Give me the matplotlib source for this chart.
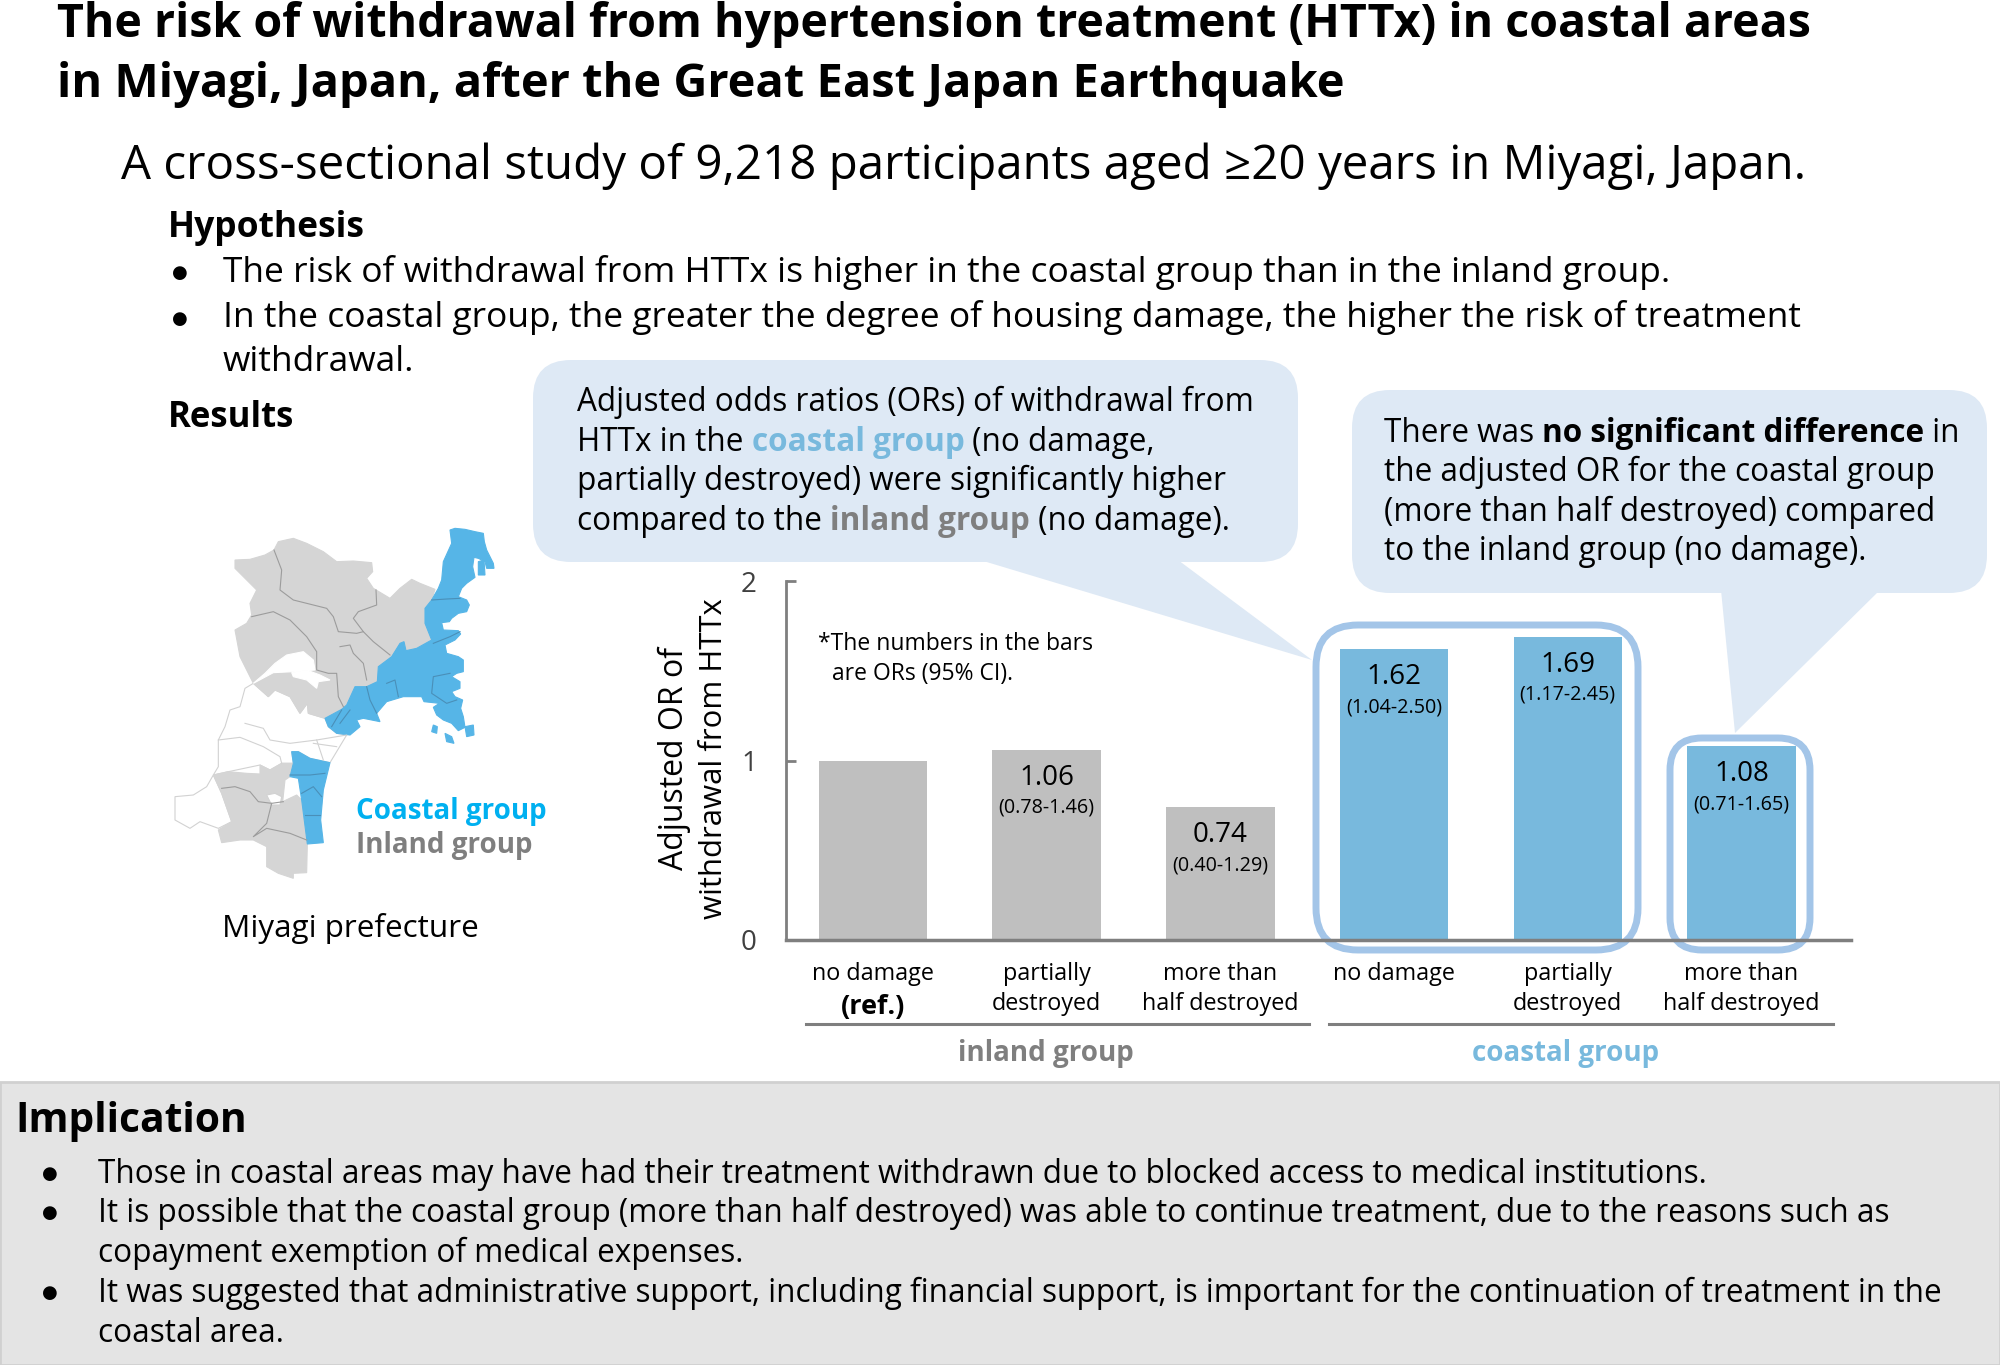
import numpy as np
import matplotlib
matplotlib.use('Agg')
import matplotlib.pyplot as plt
from matplotlib.patches import FancyBboxPatch, Polygon, Rectangle

# --- chart data ---
group_names = ['inland group', 'coastal group']
damage_labels = ['no damage', 'partially\ndestroyed', 'more than\nhalf destroyed',
                 'no damage', 'partially\ndestroyed', 'more than\nhalf destroyed']
odds_ratios = [1.00, 1.06, 0.74, 1.62, 1.69, 1.08]
or_labels = ['', '1.06', '0.74', '1.62', '1.69', '1.08']
ci_labels = ['', '(0.78-1.46)', '(0.40-1.29)', '(1.04-2.50)', '(1.17-2.45)', '(0.71-1.65)']
y_ticks = [0, 1, 2]

title_lines = ['The risk of withdrawal from hypertension treatment (HTTx) in coastal areas',
               'in Miyagi, Japan, after the Great East Japan Earthquake']
subtitle = 'A cross-sectional study of 9,218 participants aged ≥20 years in Miyagi, Japan.'
hypothesis = ['The risk of withdrawal from HTTx is higher in the coastal group than in the inland group.',
              'In the coastal group, the greater the degree of housing damage, the higher the risk of treatment',
              'withdrawal.']
implication = ['Those in coastal areas may have had their treatment withdrawn due to blocked access to medical institutions.',
               'It is possible that the coastal group (more than half destroyed) was able to continue treatment, due to the reasons such as',
               'copayment exemption of medical expenses.',
               'It was suggested that administrative support, including financial support, is important for the continuation of treatment in the',
               'coastal area.']

map_grey_north = [(255,180),(300,178),(345,165),(372,150),(385,125),(430,115),(470,130),(520,155),(560,185),(610,183),
                  (665,188),(668,215),(650,235),(670,265),(720,295),(750,265),(785,238),(810,250),(855,268),(845,300),
                  (825,325),(825,370),(845,420),(800,445),(768,452),(762,425),(750,430),(725,470),(685,500),(682,545),
                  (650,560),(615,560),(590,615),(575,628),(525,655),(475,640),(472,610),(450,640),(420,590),(375,570),
                  (355,590),(310,550),(285,500),(270,470),(255,390),(290,370),(305,345),(300,310),(320,270),(255,205)]
map_white_hole = [(310,550),(345,520),(375,490),(410,465),(460,455),(490,480),(495,510),(430,515),(370,518)]
map_white_island = [(425,518),(470,510),(510,525),(540,540),(505,545),(500,565),(470,540),(430,530)]
map_white_mid = [(310,550),(355,590),(375,570),(420,590),(450,640),(472,610),(475,640),(525,655),(535,680),(560,700),
                 (590,705),(540,788),(480,775),(445,755),(425,755),(430,790),(395,790),(360,810),(330,795),(235,815),
                 (190,825),(205,800),(205,720),(225,680),(240,630),(270,620),(285,565)]
map_white_west = [(75,890),(130,885),(170,860),(190,825),(215,880),(245,965),(205,985),(150,965),(120,985),(75,960)]
map_grey_south = [(190,825),(235,815),(290,820),(330,822),(330,795),(360,810),(395,790),(430,790),(420,830),(405,840),
                  (398,905),(440,885),(455,900),(472,1032),(470,1118),(430,1120),(430,1135),(385,1120),(350,1100),
                  (350,1040),(310,1020),(270,1020),(215,1028),(205,990),(245,965),(215,880)]
map_white_spot = [(350,885),(375,880),(395,890),(390,915),(365,915)]
map_blue_main = [(900,90),(915,85),(945,88),(975,95),(1000,100),(1003,125),(1010,150),(1020,170),(1030,190),(1032,205),
                 (1010,205),(1005,185),(985,175),(972,172),(968,200),(975,232),(950,250),(935,265),(925,290),(950,300),
                 (958,315),(950,335),(925,340),(905,355),(898,365),(875,368),(880,390),(925,392),(932,402),(915,420),
                 (885,435),(890,460),(925,470),(940,480),(940,515),(920,520),(905,530),(930,545),(930,565),(905,575),
                 (915,590),(938,600),(932,625),(940,650),(945,682),(925,692),(905,670),(880,660),(860,645),(850,622),
                 (868,610),(822,605),(815,590),(760,590),(710,605),(680,640),(690,665),(640,655),(620,660),
                 (630,680),(600,705),(560,700),(535,680),(525,655),(575,628),(590,615),(615,560),(650,560),(682,545),
                 (685,500),(725,470),(750,430),(762,425),(768,452),(800,445),(845,420),(825,370),(825,325),(845,300),
                 (865,265),(875,240),(880,185),(905,130)]
map_blue_south = [(425,755),(445,755),(480,775),(540,788),(520,870),(512,960),(520,1028),(472,1032),(455,900),(445,835),
                  (420,830),(430,790)]
map_blue_islands = [[(945,680),(970,675),(972,705),(950,710)],
                    [(850,675),(862,680),(860,700),(845,695)],
                    [(885,700),(905,710),(912,730),(890,725)],
                    [(985,185),(1002,180),(1005,225),(985,225)]]
map_grey_lines = [[(372,150),(395,210),(390,270),(430,300),(490,315),(530,325),(550,350),(565,395),(620,400),(640,395)],
                  [(678,270),(680,315),(625,335),(610,355),(640,395),(670,425),(720,465)],
                  [(305,350),(370,335),(420,360),(470,410),(500,455),(500,510),(535,520),(560,520),(565,590),(580,620)],
                  [(570,440),(600,435),(610,460),(640,490),(650,540)],
                  [(215,865),(255,860),(300,875),(325,905),(365,910),(350,970),(310,1010),(350,985),(420,1000),(470,1020)],
                  [(365,910),(400,905)]]
map_blue_lines = [[(845,300),(890,297),(930,295)], [(850,430),(900,410),(930,395)],
                  [(650,560),(660,600),(680,640)], [(710,550),(735,540),(745,590)],
                  [(900,520),(850,530),(845,580),(890,610),(920,600)],
                  [(575,630),(545,680)], [(600,630),(570,670)],
                  [(420,825),(480,825),(525,820)], [(455,880),(490,860),(515,890)], [(465,945),(510,945)]]
map_white_lines = [[(205,720),(270,712),(340,740),(390,770),(395,790)],
                   [(285,670),(340,685),(360,720),(420,730),(500,720),(590,705)],
                   [(500,720),(520,780)], [(490,730),(560,740)]]

# --- colours ---
TEXT = '#000000'
AXIS = '#7F7F7F'
BAR_GREY = '#BFBFBF'
BAR_BLUE = '#78B9DD'
CALLOUT = '#DEE9F5'
RING = '#A3C5E8'
MAP_BLUE = '#56B5E7'
MAP_GREY = '#D5D5D5'
FONT = ['Open Sans', 'DejaVu Sans']

plt.rcParams['font.family'] = FONT
fig = plt.figure(figsize=(20, 13.65), dpi=100)

# background axes in picture pixels
bg = fig.add_axes([0, 0, 1, 1])
bg.set_xlim(0, 2000)
bg.set_ylim(1365, 0)
bg.axis('off')


def put(x, y, s, size, **kw):
    return bg.text(x, y, s, fontsize=size, va='baseline', color=kw.pop('color', TEXT), **kw)


def text_width(s, size, weight):
    # measure with a bar behind so that trailing spaces count
    r = fig.canvas.get_renderer()
    a = bg.text(0, 0, s + '|', fontsize=size, fontweight=weight)
    b = bg.text(0, 0, '|', fontsize=size, fontweight=weight)
    w = a.get_window_extent(r).width - b.get_window_extent(r).width
    a.remove()
    b.remove()
    return w


def rich(x, y, parts, size):
    for s, weight, color in parts:
        put(x, y, s, size, fontweight=weight, color=color)
        x += text_width(s, size, weight)


def round_box(ax, x0, y0, x1, y1, radius, **kw):
    p = FancyBboxPatch((x0, y0), x1 - x0, y1 - y0, boxstyle=f'round,pad=0,rounding_size={radius}',
                       transform=bg.transData, clip_on=False, **kw)
    ax.add_patch(p)


# titles
put(57, 37, title_lines[0], 33.5, fontweight='bold')
put(57, 97, title_lines[1], 33.8, fontweight='bold')
put(121, 179, subtitle, 34.2)

# hypothesis
put(168, 237, 'Hypothesis', 25.5, fontweight='bold')
put(172, 278, '●', 13)
put(172, 324, '●', 13)
put(223, 282, hypothesis[0], 25.5)
put(223, 327, hypothesis[1], 25.5)
put(223, 371, hypothesis[2], 25.5)
put(168, 427, 'Results', 25, fontweight='bold')

# map
for pts, col, edge in [(map_white_mid, 'white', '#D2D2D2'), (map_white_west, 'white', '#D2D2D2'),
                       (map_grey_north, MAP_GREY, MAP_GREY), (map_grey_south, MAP_GREY, MAP_GREY),
                       (map_white_hole, 'white', 'white'), (map_white_island, 'white', 'white'),
                       (map_white_spot, 'white', '#D2D2D2'), (map_blue_main, MAP_BLUE, MAP_BLUE),
                       (map_blue_south, MAP_BLUE, MAP_BLUE)] + [(i, MAP_BLUE, MAP_BLUE) for i in map_blue_islands]:
    arr = np.array(pts) / 3 + [150, 500]
    bg.add_patch(Polygon(arr, closed=True, facecolor=col, edgecolor=edge, linewidth=0.8))
for lines, col in [(map_grey_lines, '#9C9C9C'), (map_blue_lines, '#4A8FB8'), (map_white_lines, '#D2D2D2')]:
    for line in lines:
        arr = np.array(line) / 3 + [150, 500]
        bg.plot(arr[:, 0], arr[:, 1], color=col, lw=0.8)
put(356, 819, 'Coastal group', 20, fontweight='bold', color='#00B0F0')
put(356, 853, 'Inland group', 20, fontweight='bold', color='#7F7F7F')
put(222, 937, 'Miyagi prefecture', 22.6)

# callouts
round_box(bg, 533, 360, 1298, 562, 38, facecolor=CALLOUT, edgecolor='none')
bg.add_patch(Polygon([(980, 560), (1178, 560), (1312, 660)], facecolor=CALLOUT, edgecolor='none'))
rich(577, 411, [('Adjusted odds ratios (ORs) of withdrawal from', 'normal', TEXT)], 22.7)
rich(577, 451, [('HTTx in the ', 'normal', TEXT), ('coastal group', 'bold', BAR_BLUE), (' (no damage,', 'normal', TEXT)], 22.7)
rich(577, 490, [('partially destroyed) were significantly higher', 'normal', TEXT)], 22.7)
rich(577, 530, [('compared to the ', 'normal', TEXT), ('inland group', 'bold', AXIS), (' (no damage).', 'normal', TEXT)], 22.7)

round_box(bg, 1352, 390, 1987, 593, 38, facecolor=CALLOUT, edgecolor='none')
bg.add_patch(Polygon([(1721, 590), (1880, 590), (1735, 733)], facecolor=CALLOUT, edgecolor='none'))
rich(1384, 442, [('There was ', 'normal', TEXT), ('no significant difference', 'bold', TEXT), (' in', 'normal', TEXT)], 22.7)
rich(1384, 481, [('the adjusted OR for the coastal group', 'normal', TEXT)], 22.7)
rich(1384, 521, [('(more than half destroyed) compared', 'normal', TEXT)], 22.7)
rich(1384, 560, [('to the inland group (no damage).', 'normal', TEXT)], 22.7)

# bar chart, axis box set so that bars fall on the picture's positions
ax = fig.add_axes([786 / 2000, 1 - 940 / 1365, (1851 - 786) / 2000, (940 - 581) / 1365])
ax.patch.set_alpha(0)
x = np.arange(len(odds_ratios))
bars = ax.bar(x, odds_ratios, width=0.625, color=[BAR_GREY] * 3 + [BAR_BLUE] * 3)
ax.set_xlim(-0.5, 5.63)
ax.set_ylim(0, 2)
ax.set_yticks(y_ticks)
ax.set_xticks(x)
ax.set_xticklabels(damage_labels, fontsize=16.8, linespacing=1.3)
ax.tick_params(axis='x', length=0, pad=16)
ax.tick_params(axis='y', direction='in', length=7, width=2, color=AXIS, labelsize=20, labelcolor='#404040', pad=21)
for side in ['top', 'right']:
    ax.spines[side].set_visible(False)
ax.spines['left'].set_color(AXIS)
ax.spines['left'].set_linewidth(2)
ax.spines['bottom'].set_color(AXIS)
ax.spines['bottom'].set_linewidth(2.5)

for i, v in enumerate(odds_ratios):
    ax.annotate(or_labels[i], (i, v), xytext=(0, -35), textcoords='offset pixels',
                ha='center', va='baseline', fontsize=20)
    ax.annotate(ci_labels[i], (i, v), xytext=(0, -63), textcoords='offset pixels',
                ha='center', va='baseline', fontsize=14.2)

# highlight rings sit over the bars and the axis line
round_box(ax, 1316, 625, 1638, 950, 42, facecolor='none', edgecolor=RING, linewidth=5)
round_box(ax, 1670, 738, 1810, 950, 32, facecolor='none', edgecolor=RING, linewidth=5)

# text and rules around the chart
put(818, 650, '*The numbers in the bars', 16.5)
put(832, 680, 'are ORs (95% CI).', 16.5)
bg.text(674, 759, 'Adjusted OR of', fontsize=23, rotation=90, ha='center', va='center')
bg.text(714, 759, 'withdrawal from HTTx', fontsize=22.4, rotation=90, ha='center', va='center')
put(873, 1014, '(ref.)', 19.5, fontweight='bold', ha='center')
bg.plot([806, 1309], [1024, 1024], color=AXIS, lw=2.2)
bg.plot([1329, 1833], [1024, 1024], color=AXIS, lw=2.2)
put(1046, 1061, group_names[0], 20, fontweight='bold', color=AXIS, ha='center')
put(1566, 1061, group_names[1], 20, fontweight='bold', color=BAR_BLUE, ha='center')

# implication panel
bg.add_patch(Rectangle((0, 1082), 2000, 283, facecolor='#E4E4E4', edgecolor='#D0D0D0', linewidth=2))
put(15, 1132, 'Implication', 29.3, fontweight='bold')
for yy in [1179, 1218, 1298]:
    put(42, yy, '●', 13)
for yy, line in zip([1183, 1222, 1262, 1302, 1342], implication):
    put(98, yy, line, 22.7)

plt.savefig('out.png', dpi=100)
